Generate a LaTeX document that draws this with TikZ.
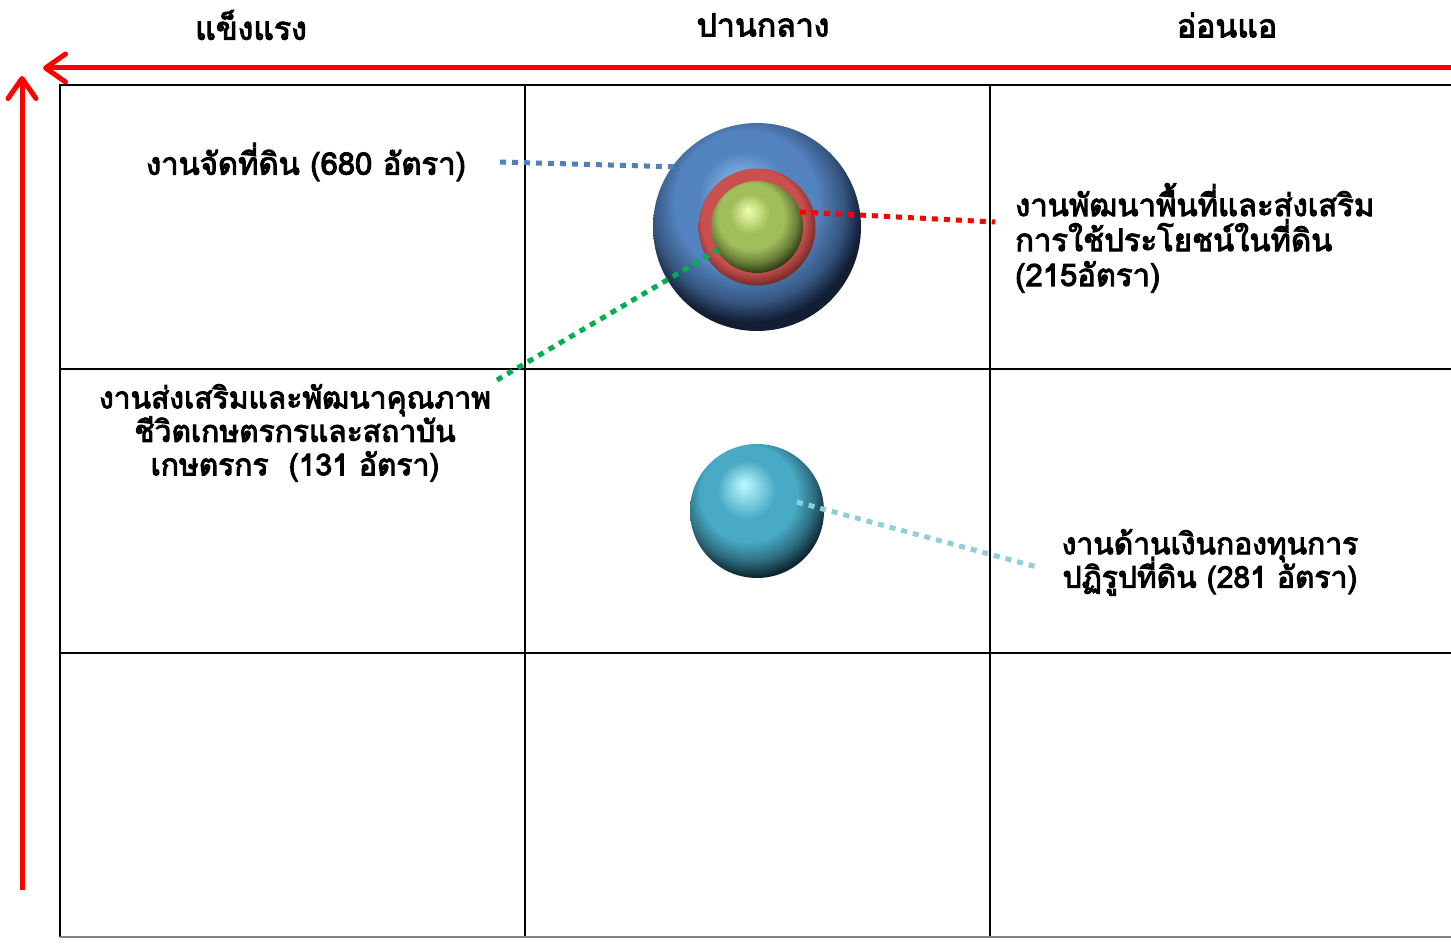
\documentclass[tikz,border=0pt]{standalone}
\usepackage{fontspec}
\newfontfamily\thai[Script=Thai,FakeBold=3.2]{Loma}
\usetikzlibrary{arrows.meta}
\setlength{\lineskiplimit}{-100pt}
\definecolor{axisred}{RGB}{255,0,0}
\definecolor{dotblue}{RGB}{79,129,189}
\definecolor{dotred}{RGB}{255,0,0}
\definecolor{dotgreen}{RGB}{0,176,80}
\definecolor{dotcyan}{RGB}{146,205,220}
\definecolor{bluehi}{RGB}{150,200,245}
\definecolor{bluebase}{RGB}{84,132,192}
\definecolor{bluedark}{RGB}{18,30,52}
\definecolor{redhi}{RGB}{215,110,105}
\definecolor{redbase}{RGB}{200,80,78}
\definecolor{reddark}{RGB}{90,30,30}
\definecolor{greenhi}{RGB}{240,255,175}
\definecolor{greenbase}{RGB}{160,190,90}
\definecolor{greendark}{RGB}{45,55,20}
\definecolor{cyanhi}{RGB}{190,250,255}
\definecolor{cyanbase}{RGB}{72,170,196}
\definecolor{cyandark}{RGB}{12,35,45}
\pgfdeclareradialshading{bluesph}{\pgfpoint{-4bp}{9bp}}{color(0bp)=(bluehi); color(11bp)=(bluebase); color(17bp)=(bluebase); color(23bp)=(bluebase!55!bluedark); color(27bp)=(bluedark); color(50bp)=(bluedark)}
\pgfdeclareradialshading{redsph}{\pgfpoint{-3bp}{5bp}}{color(0bp)=(redhi); color(12bp)=(redbase); color(22bp)=(redbase); color(29bp)=(reddark); color(50bp)=(reddark)}
\pgfdeclareradialshading{greensph}{\pgfpoint{-5bp}{9bp}}{color(0bp)=(greenhi); color(11bp)=(greenbase); color(18bp)=(greenbase); color(24bp)=(greenbase!55!greendark); color(29bp)=(greendark); color(50bp)=(greendark)}
\pgfdeclareradialshading{cyansph}{\pgfpoint{-5bp}{10bp}}{color(0bp)=(cyanhi); color(11bp)=(cyanbase); color(18bp)=(cyanbase); color(24bp)=(cyanbase!55!cyandark); color(29bp)=(cyandark); color(50bp)=(cyandark)}
\tikzset{
  axis/.style={draw=axisred,line width=5pt,-{Straight Barb[length=20pt,width=28pt,round]}},
  gridline/.style={draw=black,line width=1.5pt},
  dotline/.style={line width=5pt,dash pattern=on 6pt off 6pt},
  hdr/.style={font=\thai\fontsize{32}{36}\selectfont,anchor=center,inner sep=0pt},
  lbl/.style={font=\thai\fontsize{31}{35}\selectfont,inner sep=0pt,align=center},
  lblsm/.style={font=\thai\fontsize{30}{33.5}\selectfont,inner sep=0pt,align=center},
  sph/.style={circle,inner sep=0pt,shading=#1},
}
\begin{document}
\begin{tikzpicture}[x=1pt,y=-1pt]
\useasboundingbox (0,0) rectangle (1451,944);
% grid
\draw[gridline] (1451,85) -- (60,85) -- (60,937);
\draw[gridline] (525,85) -- (525,937);
\draw[gridline] (990,85) -- (990,937);
\draw[gridline] (60,369) -- (1451,369);
\draw[gridline] (60,653) -- (1451,653);
\draw[draw=gray,line width=2pt] (60,937) -- (1451,937);
% axes
\coordinate (ax1) at (1451,68);
\coordinate (ax2) at (43,68);
\coordinate (ay1) at (22,890);
\coordinate (ay2) at (22,76);
\draw[axis] (ax1) -- (ax2);
\draw[axis] (ay1) -- (ay2);
% headers
\node[hdr] (h1) at (251,25) {แข็งแรง};
\node[hdr] (h2) at (763,25) {ปานกลาง};
\node[hdr] (h3) at (1227,25) {อ่อนแอ};
% spheres
\node[sph=bluesph,minimum size=208pt] (sb) at (757,227) {};
\node[sph=redsph,minimum size=117pt] (sr) at (757,227) {};
\node[sph=greensph,minimum size=92pt] (sg) at (757,227) {};
\node[sph=cyansph,minimum size=134pt] (sc) at (757,511) {};
% labels
\node[lbl,anchor=center] (l1) at (306,162) {งานจัดที่ดิน (680 อัตรา)};
\node[lbl,align=left,anchor=north west] (l2) at (1015,183) {งานพัฒนาพื้นที่และส่งเสริม\\การใช้ประโยชน์ในที่ดิน\\(215อัตรา)};
\node[lblsm,anchor=north] (l3) at (295,384) {งานส่งเสริมและพัฒนาคุณภาพ\\ชีวิตเกษตรกรและสถาบัน\\เกษตรกร\ \ (131 อัตรา)};
\node[lblsm,anchor=north] (l4) at (1210,529) {งานด้านเงินกองทุนการ\\ปฏิรูปที่ดิน (281 อัตรา)};
% connector end points
\coordinate (b1) at (500,162);
\coordinate (r2) at (995,222);
\coordinate (g1) at (497,380);
\coordinate (c2) at (1037,567);
\draw[dotline,draw=dotblue] (b1) -- ([shift={(-75,-60)}]sb.center);
\draw[dotline,draw=dotred] ([shift={(43,-15)}]sg.center) -- (r2);
\draw[dotline,draw=dotgreen] (g1) -- ([shift={(-39,23)}]sg.center);
\draw[dotline,draw=dotcyan] ([shift={(40,-9)}]sc.center) -- (c2);
\end{tikzpicture}
\end{document}
